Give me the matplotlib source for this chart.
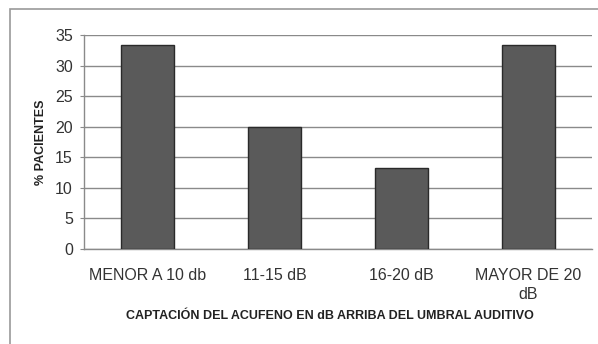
import matplotlib.pyplot as plt
from matplotlib.patches import Rectangle

# Datos: % de pacientes según captación del acúfeno
categorias = ["MENOR A 10 db", "11-15 dB", "16-20 dB", "MAYOR DE 20\ndB"]
porcentajes = [33.3, 20.0, 13.3, 33.3]
ticks_y = [0, 5, 10, 15, 20, 25, 30, 35]

plt.rcParams['font.family'] = ['Liberation Sans', 'DejaVu Sans']

fig = plt.figure(figsize=(5.98, 3.44), dpi=100)
W, H = 598, 344

# marco exterior del gráfico (solo borde superior e izquierdo visibles)
fig.patches.append(Rectangle((10 / W, -0.1), 1.2, (H - 9) / H + 0.1,
                             transform=fig.transFigure, fill=False,
                             edgecolor='#9a9a9a', lw=1.2))

ax = fig.add_axes([84 / W, (H - 249) / H, (592 - 84) / W, (249 - 35) / H])

x = range(len(categorias))
ax.bar(x, porcentajes, width=0.41, color='#5a5a5a', edgecolor='#2a2a2a', lw=1.0, zorder=3)

ax.set_xlim(-0.5, 3.5)
ax.set_ylim(0, 35)
ax.set_yticks(ticks_y)
ax.yaxis.grid(True, color='#8a8a8a', lw=1.0, zorder=0)
ax.set_xticks(list(x))
ax.set_xticklabels(categorias, fontsize=11.5, color='#333333', linespacing=1.3,
                   va='top')
ax.tick_params(axis='x', length=0, pad=14)
ax.tick_params(axis='y', length=3, color='#8a8a8a', labelsize=11.5,
               labelcolor='#333333', pad=5)

for s in ['top', 'right']:
    ax.spines[s].set_visible(False)
for s in ['left', 'bottom']:
    ax.spines[s].set_color('#8a8a8a')
    ax.spines[s].set_linewidth(1.0)

ax.set_ylabel("% PACIENTES", fontsize=9, fontweight='bold', color='#222222',
              labelpad=6)
fig.text(330 / W, 1 - 316 / H, "CAPTACIÓN DEL ACUFENO EN dB ARRIBA DEL UMBRAL AUDITIVO",
         fontsize=9, fontweight='bold', color='#222222', ha='center', va='center')

fig.savefig("out.png", dpi=100, facecolor='white')
